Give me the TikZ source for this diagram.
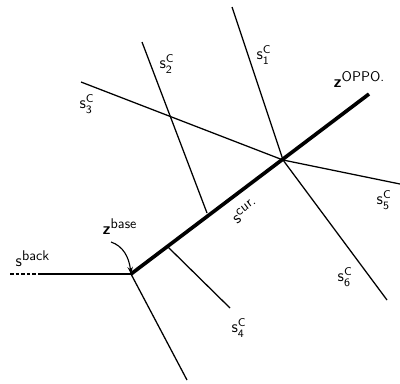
\documentclass[tikz,border=0pt]{standalone}
\usepackage{amsmath,amssymb}
\usepackage{tikz}
\usetikzlibrary{positioning, arrows.meta}

\newcommand{\hi}[1]{\raisebox{0.75ex}{\normalsize #1}}
\newcommand{\slab}[1]{s$^{\mathsf{C}}_{\mathsf{#1}}$}

\begin{document}
\begin{tikzpicture}[
  x=0.025cm, y=-0.025cm,
  font=\sffamily\large,
  thin line/.style={line width=0.9pt},
  thick line/.style={line width=2.6pt},
  lbl/.style={inner sep=1pt},
]
  \useasboundingbox (0,0) rectangle (400,383);

  % points
  \coordinate (top1)  at (232,7);
  \coordinate (mid)   at (283,160);
  \coordinate (top2)  at (142,42);
  \coordinate (foot2) at (207,213);
  \coordinate (left3) at (81,82);
  \coordinate (right5) at (400,184);
  \coordinate (bot6)  at (387,300);
  \coordinate (oppo)  at (369,94);
  \coordinate (base)  at (131,274);
  \coordinate (foot4) at (168,247);
  \coordinate (end4)  at (230,308);
  \coordinate (bot)   at (187,380);
  \coordinate (back)  at (42,274);
  \coordinate (backd) at (10,274);
  \coordinate (arrs)  at (111,242);

  % constraint lines
  \draw[thin line] (top1) -- (mid);
  \draw[thin line] (mid) -- (bot6);
  \draw[thin line] (left3) -- (mid);
  \draw[thin line] (mid) -- (right5);
  \draw[thin line] (top2) -- (foot2);
  \draw[thin line] (foot4) -- (end4);
  \draw[thin line] (base) -- (bot);

  % current segment and back segment
  \draw[thick line] (base) -- (oppo);
  \draw[line width=1.6pt] (back) -- (base);
  \draw[line width=1.6pt, dash pattern=on 2.5pt off 1.5pt] (backd) -- (back);

  % labels
  \node[lbl] (s1) at (264,55) {\slab{1}};
  \node[lbl] (s2) at (167,64) {\slab{2}};
  \node[lbl] (s3) at (87,104) {\slab{3}};
  \node[lbl] (s4) at (239,328) {\slab{4}};
  \node[lbl] (s5) at (384,200) {\slab{5}};
  \node[lbl] (s6) at (345,277) {\slab{6}};
  \node[lbl, anchor=south west] (zop) at (332,89) {\textbf{z}\hi{OPPO.}};
  \node[lbl, rotate=37] (scur) at (245,211) {s\hi{cur.}};
  \node[lbl, anchor=south west] (zbase) at (101,236) {\textbf{z}\hi{base}};
  \node[lbl, anchor=south west] (sback) at (14,268) {s\hi{back}};

  \draw[line width=0.8pt, -{Stealth[length=5pt]}] (arrs) .. controls (123,246) and (129,257) .. (base);
\end{tikzpicture}
\end{document}
